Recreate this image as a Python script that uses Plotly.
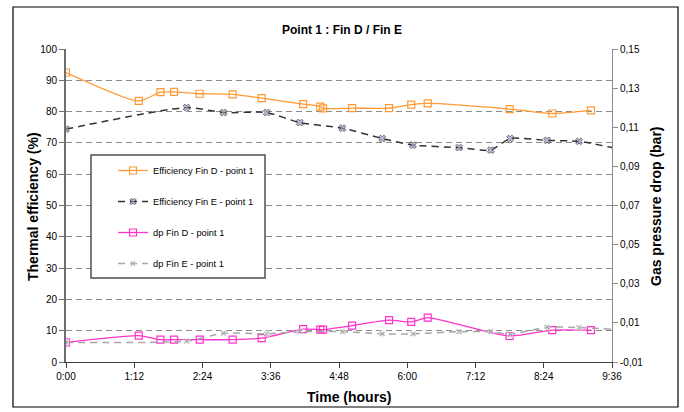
import plotly.graph_objects as go

# ---- data ----
time_D = [0.00, 1.28, 1.66, 1.90, 2.35, 2.93, 3.44, 4.17, 4.47, 4.52, 5.03, 5.68, 6.07, 6.36, 7.80, 8.55, 9.23]
eff_D = [92.5, 83.4, 86.2, 86.3, 85.7, 85.5, 84.3, 82.4, 81.6, 81.0, 81.1, 81.1, 82.2, 82.6, 80.8, 79.4, 80.4]
dp_D = [0.0000, 0.0035, 0.0014, 0.0014, 0.0014, 0.0014, 0.0022, 0.0068, 0.0066, 0.0065, 0.0086, 0.0114, 0.0105, 0.0127, 0.0033, 0.0063, 0.0063]

time_E = [0.00, 2.12, 2.77, 3.53, 4.11, 4.86, 5.56, 6.10, 6.91, 7.47, 7.81, 8.46, 9.02, 9.60]
eff_E = [74.4, 81.3, 79.7, 79.7, 76.5, 74.7, 71.4, 69.3, 68.5, 67.7, 71.4, 70.8, 70.5, 68.5]
dp_E = [0.0000, 0.0007, 0.0047, 0.0044, 0.0055, 0.0055, 0.0044, 0.0044, 0.0055, 0.0055, 0.0042, 0.0078, 0.0076, 0.0067]

x_tickvals = [0, 1.2, 2.4, 3.6, 4.8, 6.0, 7.2, 8.4, 9.6]
x_ticktext = ["0:00", "1:12", "2:24", "3:36", "4:48", "6:00", "7:12", "8:24", "9:36"]
y2_tickvals = [-0.01, 0.01, 0.03, 0.05, 0.07, 0.09, 0.11, 0.13, 0.15]
y2_ticktext = ["-0,01", "0,01", "0,03", "0,05", "0,07", "0,09", "0,11", "0,13", "0,15"]

FONT = "Liberation Sans, Arial, sans-serif"
ORANGE = "#FF9933"
MAGENTA = "#FF33CC"
LAVENDER = "#A898CC"
GRAY = "#A6A6A6"

e_sizes = [6] * (len(time_E) - 1) + [0]

fig = go.Figure()
fig.add_trace(go.Scatter(
    x=time_D, y=eff_D, name="Efficiency Fin D - point 1", mode="lines+markers",
    line=dict(color=ORANGE, width=1.3, shape="spline", smoothing=0.6),
    marker=dict(symbol="square-open", size=7, color=ORANGE, line=dict(width=1.2)),
    legendgroup="a"))
fig.add_trace(go.Scatter(
    x=time_E, y=eff_E, name="Efficiency Fin E - point 1", mode="lines+markers",
    line=dict(color="#333333", width=1.5, dash="7px,5px", shape="spline", smoothing=0.6),
    marker=dict(symbol="x", size=e_sizes, color=LAVENDER),
    legendgroup="b"))
fig.add_trace(go.Scatter(
    x=time_D, y=dp_D, name="dp Fin D - point 1", mode="lines+markers", yaxis="y2",
    line=dict(color=MAGENTA, width=1.3, shape="spline", smoothing=0.6),
    marker=dict(symbol="square-open", size=7, color=MAGENTA, line=dict(width=1.2)),
    legendgroup="c"))
fig.add_trace(go.Scatter(
    x=time_E, y=dp_E, name="dp Fin E - point 1", mode="lines+markers", yaxis="y2",
    line=dict(color=GRAY, width=1.5, dash="7px,5px", shape="spline", smoothing=0.6),
    marker=dict(symbol="x", size=e_sizes, color=GRAY),
    legendgroup="d"))

W, H = 684, 412
L, R, T, B = 66, 72, 49, 50
pw, ph = W - L - R, H - T - B

def px(x):
    return (x - L) / pw

def py(y):
    return (H - B - y) / ph

fig.update_layout(
    width=W, height=H,
    margin=dict(l=L, r=R, t=T, b=B),
    paper_bgcolor="white", plot_bgcolor="white",
    font=dict(family=FONT, size=10, color="black"),
    showlegend=True,
    legend=dict(x=px(113), y=py(156), xanchor="left", yanchor="top",
                bgcolor="rgba(0,0,0,0)", borderwidth=0,
                font=dict(size=9.3, family=FONT), tracegroupgap=12,
                itemwidth=30),
    xaxis=dict(range=[0, 9.6], tickvals=x_tickvals, ticktext=x_ticktext,
               showgrid=False, zeroline=False, showline=True, linecolor="#404040",
               linewidth=1, ticks="outside", ticklen=5, tickcolor="#404040",
               tickfont=dict(size=10)),
    yaxis=dict(range=[0, 100], dtick=10, showgrid=True, gridcolor="#8C8C8C",
               griddash="6px,4px", gridwidth=1, zeroline=False, showline=True,
               linecolor="#6E6E6E", linewidth=2, ticks="outside", ticklen=5,
               tickcolor="#6E6E6E", tickfont=dict(size=10)),
    yaxis2=dict(range=[-0.01, 0.15], tickvals=y2_tickvals, ticktext=y2_ticktext,
                overlaying="y", side="right", showgrid=False, zeroline=False,
                showline=True, linecolor="#8C8C8C", linewidth=1, ticks="outside",
                ticklen=5, tickcolor="#8C8C8C", tickfont=dict(size=10)),
    shapes=[
        dict(type="rect", xref="paper", yref="paper",
             x0=px(13), x1=px(678), y0=py(407), y1=py(7),
             line=dict(color="black", width=1.2), fillcolor="rgba(0,0,0,0)", layer="above"),
        dict(type="rect", xref="paper", yref="paper",
             x0=px(91), x1=px(265), y0=py(278), y1=py(155),
             line=dict(color="#505050", width=1.5), fillcolor="white", layer="above"),
    ],
    annotations=[
        dict(text="<b>Point 1 : Fin D / Fin E</b>", xref="paper", yref="paper",
             x=px(342), y=py(30), xanchor="center", yanchor="middle",
             showarrow=False, font=dict(size=12)),
        dict(text="<b>Thermal efficiency (%)</b>", xref="paper", yref="paper",
             x=px(33), y=py(207), xanchor="center", yanchor="middle",
             textangle=-90, showarrow=False, font=dict(size=14)),
        dict(text="<b>Gas pressure drop (bar)</b>", xref="paper", yref="paper",
             x=px(656), y=py(206), xanchor="center", yanchor="middle",
             textangle=-90, showarrow=False, font=dict(size=14)),
        dict(text="<b>Time (hours)</b>", xref="paper", yref="paper",
             x=px(349), y=py(397), xanchor="center", yanchor="middle",
             showarrow=False, font=dict(size=14)),
    ],
)

fig.write_html("out.html")
